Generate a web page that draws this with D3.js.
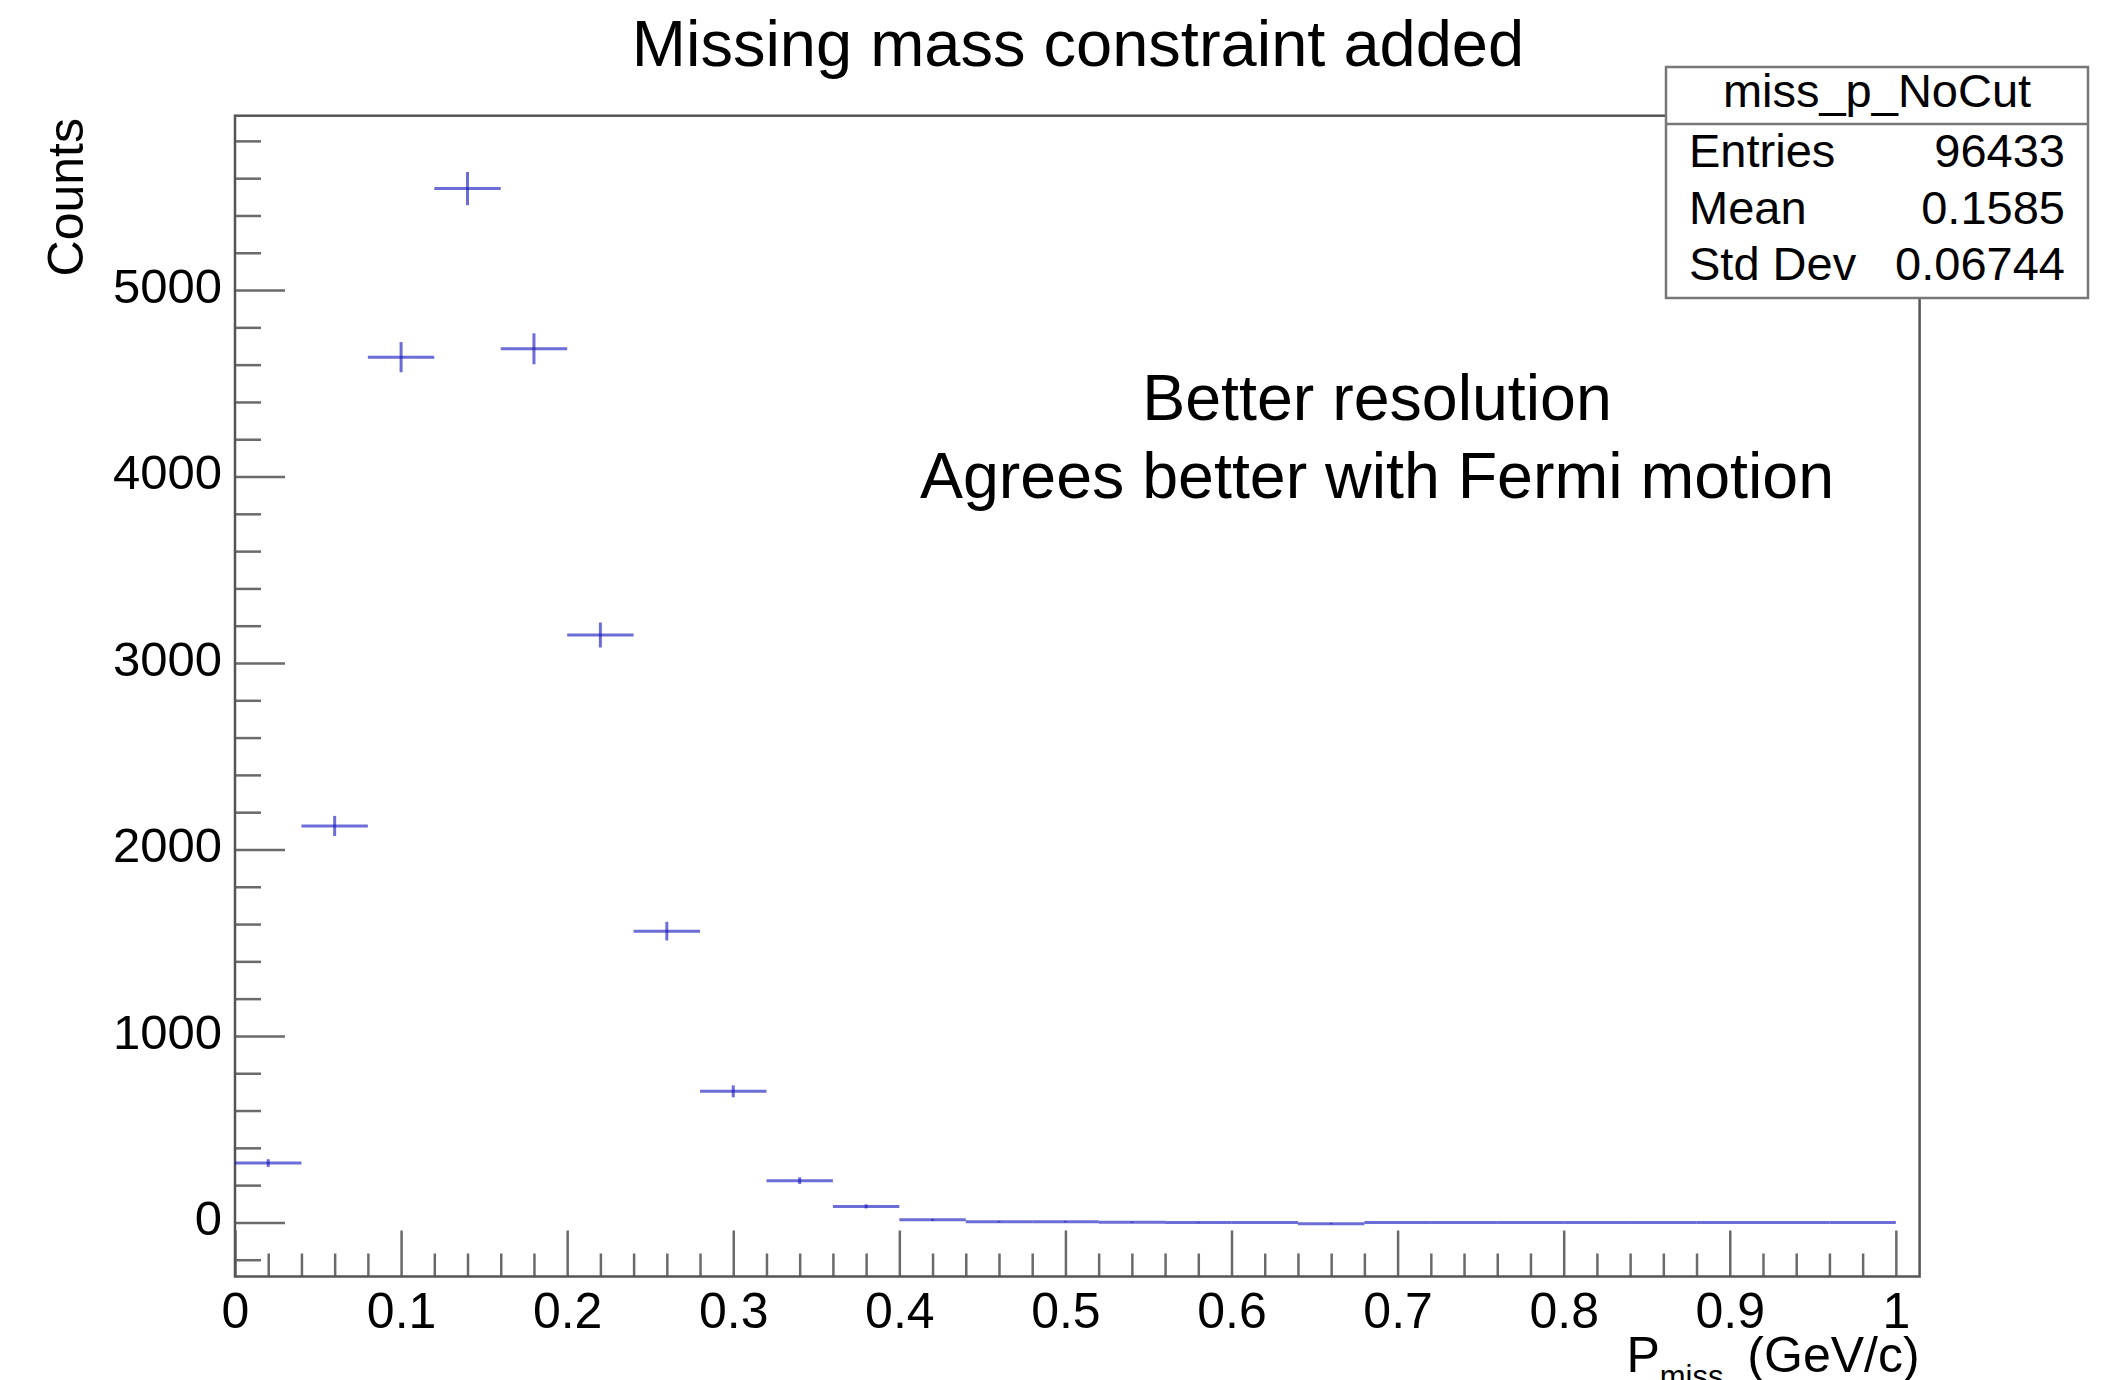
<!DOCTYPE html>
<html>
<head>
<meta charset="utf-8">
<script src="https://cdn.jsdelivr.net/npm/d3@7"></script>
<style>
  body { margin: 0; background: #fff; }
  text { font-family: 'Liberation Sans', Arial, Helvetica, sans-serif; fill: #000; }
</style>
</head>
<body>
<svg id="chart"></svg>
<script>
// histogram bins, width 0.04 GeV/c
const binCenters = [0.02, 0.06, 0.10, 0.14, 0.18, 0.22, 0.26, 0.30, 0.34, 0.38, 0.42, 0.46, 0.50,
  0.54, 0.58, 0.62, 0.66, 0.70, 0.74, 0.78, 0.82, 0.86, 0.90, 0.94, 0.98]
const counts = [318, 2126, 4640, 5544, 4685, 3150, 1562, 703, 224, 86, 14, 4, 4,
  1, 0, 0, -7, 0, 0, 0, 0, 0, 0, 0, 0]
const errors = [21, 54, 81, 89, 83, 67, 50, 32, 18, 11, 5, 3, 3,
  3, 2, 0, 3, 0, 0, 0, 0, 0, 0, 0, 0]
const binWidth = 0.04

const xMajorTicks = [0, 0.1, 0.2, 0.3, 0.4, 0.5, 0.6, 0.7, 0.8, 0.9, 1]
const xTickLabels = ['0', '0.1', '0.2', '0.3', '0.4', '0.5', '0.6', '0.7', '0.8', '0.9', '1']
const yMajorTicks = [0, 1000, 2000, 3000, 4000, 5000]

const statsRows = [['Entries', '96433'], ['Mean', '0.1585'], ['Std Dev', '0.06744']]

const width = 2126
const height = 1380
const frame = {left: 235, right: 1919.6, top: 115.7, bottom: 1276.5}
const axisGrey = '#6a6a6a'
const markColor = 'rgb(20,20,190)'

const svg = d3.select('#chart').attr('width', width).attr('height', height)

const x = d3.scaleLinear().domain([0, 1.0143]).range([frame.left, frame.right])
const y = d3.scaleLinear().domain([-290, 5935]).range([frame.bottom, frame.top])

// minor ticks every 0.02 / 200
const xMinor = d3.range(0, 1.0001, 0.02).filter(v => Math.abs(v * 10 - Math.round(v * 10)) > 1e-6)
const yMinor = d3.range(-200, 5801, 200).filter(v => v % 1000 !== 0)

function styleAxis (g) {
  g.select('.domain').remove()
  g.selectAll('.tick line').attr('stroke', axisGrey).attr('stroke-width', 2.5)
}

svg.append('g')
  .attr('transform', `translate(0,${frame.bottom})`)
  .call(d3.axisBottom(x).tickValues(xMinor).tickSize(-23).tickFormat(''))
  .call(styleAxis)

svg.append('g')
  .attr('transform', `translate(0,${frame.bottom})`)
  .call(d3.axisBottom(x).tickValues(xMajorTicks).tickSize(-46).tickPadding(15)
    .tickFormat((d, i) => xTickLabels[i]))
  .call(styleAxis)
  .call(g => g.selectAll('.tick text').attr('font-size', 50).attr('dy', '0.71em')
    .attr('y', 16).style('font-family', "'Liberation Sans', Arial, sans-serif"))

svg.append('g')
  .attr('transform', `translate(${frame.left},0)`)
  .call(d3.axisLeft(y).tickValues(yMinor).tickSize(-26).tickFormat(''))
  .call(styleAxis)

svg.append('g')
  .attr('transform', `translate(${frame.left},0)`)
  .call(d3.axisLeft(y).tickValues(yMajorTicks).tickSize(-50).tickPadding(13).tickFormat(d3.format('d')))
  .call(styleAxis)
  .call(g => g.selectAll('.tick text').attr('font-size', 49).attr('dy', '0.25em')
    .style('font-family', "'Liberation Sans', Arial, sans-serif"))

// frame
svg.append('rect')
  .attr('x', frame.left).attr('y', frame.top)
  .attr('width', frame.right - frame.left).attr('height', frame.bottom - frame.top)
  .attr('fill', 'none').attr('stroke', '#555').attr('stroke-width', 2.5)

// data: horizontal bin width + vertical error bar
const bins = binCenters.map((c, i) => ({c, v: counts[i], e: errors[i]}))
const marks = svg.append('g').attr('stroke', markColor).attr('stroke-width', 3)
  .attr('stroke-opacity', 0.62).attr('fill', 'none')

marks.selectAll('line.h').data(bins).join('line').attr('class', 'h')
  .attr('x1', d => x(d.c - binWidth / 2)).attr('x2', d => x(d.c + binWidth / 2))
  .attr('y1', d => y(d.v)).attr('y2', d => y(d.v))

marks.selectAll('line.v').data(bins.filter(d => d.e > 0)).join('line').attr('class', 'v')
  .attr('x1', d => x(d.c)).attr('x2', d => x(d.c))
  .attr('y1', d => y(d.v - d.e)).attr('y2', d => y(d.v + d.e))

// titles
svg.append('text').attr('x', 1078).attr('y', 66).attr('text-anchor', 'middle')
  .attr('font-size', 65).text('Missing mass constraint added')

svg.append('text').attr('transform', 'translate(83,118) rotate(-90)')
  .attr('text-anchor', 'end').attr('font-size', 50).text('Counts')

const xTitle = svg.append('text').attr('x', frame.right).attr('y', 1372)
  .attr('text-anchor', 'end').attr('font-size', 50)
xTitle.append('tspan').text('P')
xTitle.append('tspan').attr('font-size', 31).attr('dy', 15).text('miss')
xTitle.append('tspan').attr('dy', -15).attr('dx', 10).text(' (GeV/c)')

// annotation
const note = svg.append('text').attr('text-anchor', 'middle').attr('font-size', 64.5)
note.append('tspan').attr('x', 1377).attr('y', 420).text('Better resolution')
note.append('tspan').attr('x', 1377).attr('y', 498).text('Agrees better with Fermi motion')

// stats box
const box = {x: 1666, y: 67, w: 422, h: 231, head: 57}
const stats = svg.append('g')
stats.append('rect').attr('x', box.x).attr('y', box.y).attr('width', box.w).attr('height', box.h)
  .attr('fill', '#fff').attr('stroke', '#777').attr('stroke-width', 2.5)
stats.append('line').attr('x1', box.x).attr('x2', box.x + box.w)
  .attr('y1', box.y + box.head).attr('y2', box.y + box.head)
  .attr('stroke', '#777').attr('stroke-width', 2.5)
stats.append('text').attr('x', box.x + box.w / 2).attr('y', 107).attr('text-anchor', 'middle')
  .attr('font-size', 47).text('miss_p_NoCut')
statsRows.forEach((row, i) => {
  const yy = 167 + i * 56.5
  stats.append('text').attr('x', 1689).attr('y', yy).attr('font-size', 47).text(row[0])
  stats.append('text').attr('x', 2065).attr('y', yy).attr('text-anchor', 'end')
    .attr('font-size', 47).text(row[1])
})
</script>
</body>
</html>
